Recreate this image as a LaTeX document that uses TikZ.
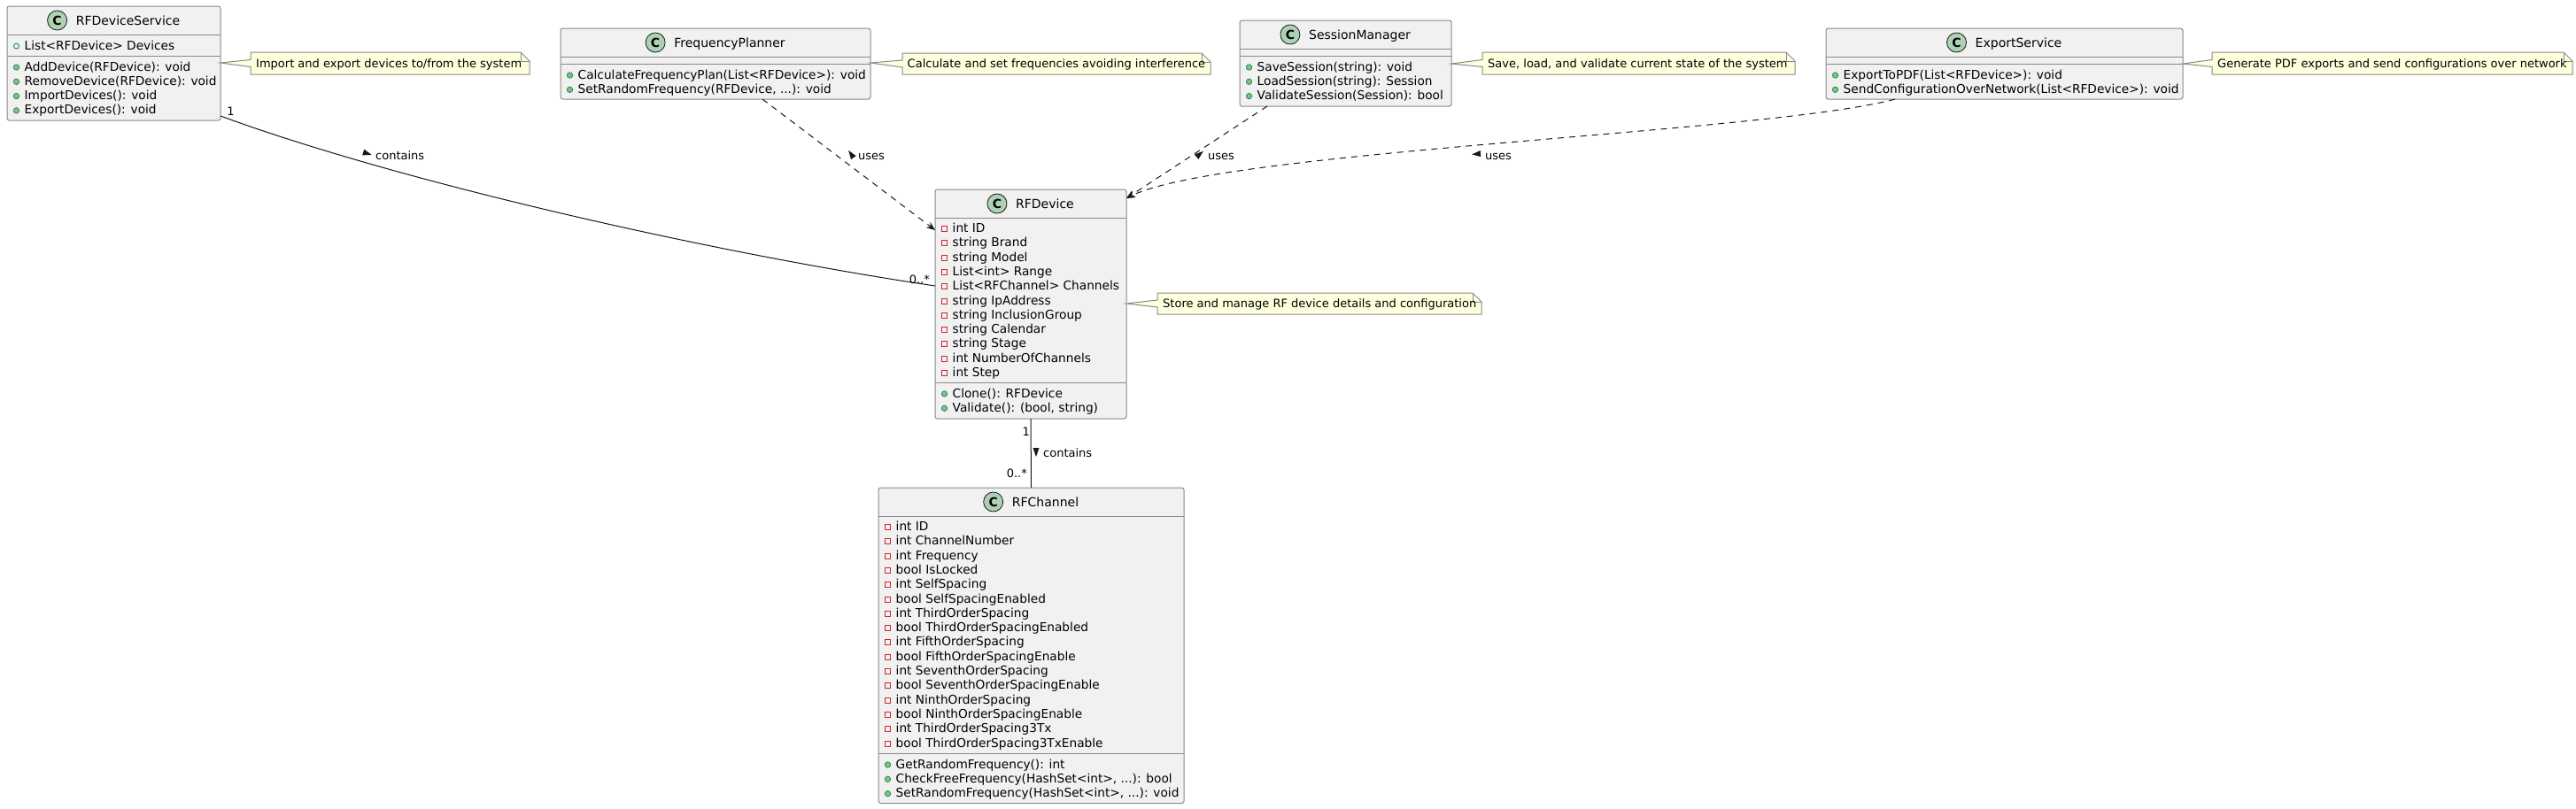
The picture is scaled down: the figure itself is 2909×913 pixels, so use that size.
\documentclass[tikz,border=0pt]{standalone}
\usepackage{fontspec}
\setmainfont{DejaVu Sans}
\usetikzlibrary{arrows.meta}
\newcommand\tdots{...}
\definecolor{boxfill}{HTML}{F1F1F1}
\definecolor{boxline}{HTML}{8A8A8A}
\definecolor{notefill}{HTML}{FEFFDD}
\definecolor{badgefill}{HTML}{ADD1B2}
\definecolor{pubfill}{HTML}{84BE84}
\definecolor{publine}{HTML}{038048}
\definecolor{privline}{HTML}{C82930}
\definecolor{ink}{HTML}{181818}
\tikzset{
  classbox/.style={draw=boxline, fill=boxfill, line width=1pt, rounded corners=2.5pt, inner sep=0pt, outer sep=0pt, anchor=north west},
  sepline/.style={draw=boxline, line width=1pt},
  ctitle/.style={inner sep=0pt, anchor=base, text height=10pt, text depth=0pt, font=\fontsize{14pt}{16pt}\selectfont},
  cbadge/.style={circle, draw=ink, fill=badgefill, line width=0.8pt, minimum size=22pt, inner sep=0pt, font=\bfseries\fontsize{14pt}{16pt}\selectfont},
  member/.style={inner sep=0pt, anchor=base west, font=\fontsize{13.7pt}{16pt}\selectfont},
  privicon/.style={rectangle, draw=privline, line width=0.9pt, minimum size=6pt, inner sep=0pt},
  pubmeth/.style={circle, draw=publine, fill=pubfill, line width=0.6pt, minimum size=6.5pt, inner sep=0pt},
  pubfield/.style={circle, draw=publine, line width=0.8pt, minimum size=6pt, inner sep=0pt},
  noteshape/.style={draw=boxline, fill=notefill, line width=1pt},
  notefold/.style={draw=boxline, line width=1pt},
  notetext/.style={inner sep=0pt, anchor=base west, font=\fontsize{13pt}{15pt}\selectfont},
  elabel/.style={inner sep=0pt, font=\fontsize{13pt}{15pt}\selectfont},
  assoc/.style={draw=ink, line width=1pt},
  usesline/.style={draw=ink, line width=1pt, dash pattern=on 7pt off 6pt, -{Stealth[length=10pt,width=8pt,inset=3.5pt]}},
  dirtri/.style={fill=ink}
}
\begin{document}
\begin{tikzpicture}[x=1pt,y=-1pt]
\useasboundingbox[fill=white] (0,0) rectangle (2909,913);

% ---------------- RFDeviceService ----------------
\node[classbox, minimum width=241pt, minimum height=129pt] (rfds) at (8,7) {};
\draw[sepline] (8,39) -- (249,39);
\draw[sepline] (8,63) -- (249,63);
\node[ctitle] (rfds-t) at (144.5,28) {RFDeviceService};
\node[cbadge] (rfds-c) at ([xshift=-21pt]rfds-t.west) {C};
\node[pubfield] (rfds-fi) at (18.5,52) {};
\node[member] (rfds-f) at (27.5,56) {List<RFDevice> Devices};
\foreach \t [count=\i from 0] in {AddDevice(RFDevice): void, RemoveDevice(RFDevice): void, ImportDevices(): void, ExportDevices(): void} {
  \node[pubmeth] (rfds-mi\i) at (18.5,76+16.3*\i) {};
  \node[member] (rfds-m\i) at (27.5,80+16.3*\i) {\t};
}

% ---------------- FrequencyPlanner ----------------
\node[classbox, minimum width=350pt, minimum height=80pt] (fp) at (633,32) {};
\draw[sepline] (633,64) -- (983,64);
\draw[sepline] (633,72) -- (983,72);
\node[ctitle] (fp-t) at (824,53) {FrequencyPlanner};
\node[cbadge] (fp-c) at ([xshift=-21pt]fp-t.west) {C};
\foreach \t [count=\i from 0] in {CalculateFrequencyPlan(List<RFDevice>): void, {SetRandomFrequency(RFDevice, \tdots): void}} {
  \node[pubmeth] (fp-mi\i) at (643.5,85+16.3*\i) {};
  \node[member] (fp-m\i) at (652.5,89+16.3*\i) {\t};
}

% ---------------- SessionManager ----------------
\node[classbox, minimum width=239pt, minimum height=97pt] (sm) at (1400,23) {};
\draw[sepline] (1400,55) -- (1639,55);
\draw[sepline] (1400,63) -- (1639,63);
\node[ctitle] (sm-t) at (1535.5,44) {SessionManager};
\node[cbadge] (sm-c) at ([xshift=-21pt]sm-t.west) {C};
\foreach \t [count=\i from 0] in {SaveSession(string): void, LoadSession(string): Session, ValidateSession(Session): bool} {
  \node[pubmeth] (sm-mi\i) at (1410.5,76+16.3*\i) {};
  \node[member] (sm-m\i) at (1419.5,80+16.3*\i) {\t};
}

% ---------------- ExportService ----------------
\node[classbox, minimum width=403pt, minimum height=80pt] (es) at (2062,32) {};
\draw[sepline] (2062,64) -- (2465,64);
\draw[sepline] (2062,72) -- (2465,72);
\node[ctitle] (es-t) at (2279.5,53) {ExportService};
\node[cbadge] (es-c) at ([xshift=-21pt]es-t.west) {C};
\foreach \t [count=\i from 0] in {ExportToPDF(List<RFDevice>): void, SendConfigurationOverNetwork(List<RFDevice>): void} {
  \node[pubmeth] (es-mi\i) at (2072.5,85+16.3*\i) {};
  \node[member] (es-m\i) at (2081.5,89+16.3*\i) {\t};
}

% ---------------- RFDevice ----------------
\node[classbox, minimum width=216pt, minimum height=259pt] (rfd) at (1056,214) {};
\draw[sepline] (1056,246) -- (1272,246);
\draw[sepline] (1056,432) -- (1272,432);
\node[ctitle] (rfd-t) at (1180,235) {RFDevice};
\node[cbadge] (rfd-c) at ([xshift=-21pt]rfd-t.west) {C};
\foreach \t [count=\i from 0] in {int ID, string Brand, string Model, List<int> Range, List<RFChannel> Channels, string IpAddress, string InclusionGroup, string Calendar, string Stage, int NumberOfChannels, int Step} {
  \node[privicon] (rfd-ai\i) at (1066.5,258.5+16.3*\i) {};
  \node[member] (rfd-a\i) at (1075.5,262.5+16.3*\i) {\t};
}
\foreach \t [count=\i from 0] in {Clone(): RFDevice, {Validate(): (bool, string)}} {
  \node[pubmeth] (rfd-mi\i) at (1066.5,445+16.3*\i) {};
  \node[member] (rfd-m\i) at (1075.5,449+16.3*\i) {\t};
}

% ---------------- RFChannel ----------------
\node[classbox, minimum width=345pt, minimum height=356.5pt] (rfch) at (992,551) {};
\draw[sepline] (992,583) -- (1337,583);
\draw[sepline] (992,851) -- (1337,851);
\node[ctitle] (rfch-t) at (1180.5,572) {RFChannel};
\node[cbadge] (rfch-c) at ([xshift=-21pt]rfch-t.west) {C};
\foreach \t [count=\i from 0] in {int ID, int ChannelNumber, int Frequency, bool IsLocked, int SelfSpacing, bool SelfSpacingEnabled, int ThirdOrderSpacing, bool ThirdOrderSpacingEnabled, int FifthOrderSpacing, bool FifthOrderSpacingEnable, int SeventhOrderSpacing, bool SeventhOrderSpacingEnable, int NinthOrderSpacing, bool NinthOrderSpacingEnable, int ThirdOrderSpacing3Tx, bool ThirdOrderSpacing3TxEnable} {
  \node[privicon] (rfch-ai\i) at (1002.5,595.5+16.3*\i) {};
  \node[member] (rfch-a\i) at (1011.5,599.5+16.3*\i) {\t};
}
\foreach \t [count=\i from 0] in {GetRandomFrequency(): int, {CheckFreeFrequency(HashSet<int>, \tdots): bool}, {SetRandomFrequency(HashSet<int>, \tdots): void}} {
  \node[pubmeth] (rfch-mi\i) at (1002.5,864+16.3*\i) {};
  \node[member] (rfch-m\i) at (1011.5,868+16.3*\i) {\t};
}

% ---------------- Notes ----------------
\coordinate (n1tail) at (249,71);
\path[noteshape] (283,59) -- (588,59) -- (598,69) -- (598,84) -- (283,84) -- (283,75.5) -- (n1tail) -- (283,67.5) -- cycle;
\draw[notefold] (588,59) -- (588,69) -- (598,69);
\node[notetext] (n1) at (289,76) {Import and export devices to/from the system};

\coordinate (n2tail) at (983,71);
\path[noteshape] (1019,60) -- (1357,60) -- (1367,70) -- (1367,84) -- (1019,84) -- (1019,76) -- (n2tail) -- (1019,68) -- cycle;
\draw[notefold] (1357,60) -- (1357,70) -- (1367,70);
\node[notetext] (n2) at (1024.5,76.5) {Calculate and set frequencies avoiding interference};

\coordinate (n3tail) at (1639,72);
\path[noteshape] (1674,59) -- (2017,59) -- (2027,69) -- (2027,84) -- (1674,84) -- (1674,75.5) -- (n3tail) -- (1674,67.5) -- cycle;
\draw[notefold] (2017,59) -- (2017,69) -- (2027,69);
\node[notetext] (n3) at (1680,76) {Save, load, and validate current state of the system};

\coordinate (n4tail) at (2465,72);
\path[noteshape] (2498,59) -- (2895,59) -- (2905,69) -- (2905,84) -- (2498,84) -- (2498,75.5) -- (n4tail) -- (2498,67.5) -- cycle;
\draw[notefold] (2895,59) -- (2895,69) -- (2905,69);
\node[notetext] (n4) at (2504,76) {Generate PDF exports and send configurations over network};

\coordinate (n5tail) at (1272,343);
\path[noteshape] (1307,331) -- (1663,331) -- (1673,341) -- (1673,355) -- (1307,355) -- (1307,347) -- (n5tail) -- (1307,339) -- cycle;
\draw[notefold] (1663,331) -- (1663,341) -- (1673,341);
\node[notetext] (n5) at (1313,347.5) {Store and manage RF device details and configuration};

% ---------------- Connectors ----------------
\draw[assoc] ([yshift=5pt]rfds.south east) .. controls (450,205) and (800,285) .. ([yshift=-109pt]rfd.north west);
\node[elabel, anchor=base] (e1-m1) at (260.5,130.5) {1};
\node[elabel, anchor=base east] (e1-m2) at (1050,320) {0..*};
\fill[dirtri, shift={(415,173.5)}, rotate=-17] (5,0) -- (-5,3.5) -- (-5,-3.5) -- cycle;
\node[elabel, anchor=base west] (e1-l) at (424,180.5) {contains};

\draw[usesline] ([xshift=53pt]fp.south) -- ([yshift=-46pt]rfd.north west);
\fill[dirtri, shift={(961,174)}, rotate=125] (5,0) -- (-5,3.5) -- (-5,-3.5) -- cycle;
\node[elabel, anchor=base west] (e2-l) at (969,180.5) {uses};

\draw[usesline] ([xshift=31pt]sm.south west) -- ([yshift=-10pt]rfd.north east);
\fill[dirtri, shift={(1355,174)}, rotate=40] (5,0) -- (-5,3.5) -- (-5,-3.5) -- cycle;
\node[elabel, anchor=base west] (e3-l) at (1364,180.5) {uses};

\draw[usesline] ([xshift=78pt]es.south west) .. controls (2000,150) and (1380,170) .. ([yshift=-10pt]rfd.north east);
\fill[dirtri, shift={(1667,174)}, rotate=184.5] (5,0) -- (-5,3.5) -- (-5,-3.5) -- cycle;
\node[elabel, anchor=base west] (e4-l) at (1677,180.5) {uses};

\draw[assoc] (rfd.south) -- (rfch.north);
\node[elabel, anchor=base east] (e5-m1) at (1163,492.5) {1};
\node[elabel, anchor=base east] (e5-m2) at (1160,539) {0..*};
\fill[dirtri, shift={(1170,511)}, rotate=-90] (5,0) -- (-5,3.5) -- (-5,-3.5) -- cycle;
\node[elabel, anchor=base west] (e5-l) at (1178,516.5) {contains};
\end{tikzpicture}
\end{document}
